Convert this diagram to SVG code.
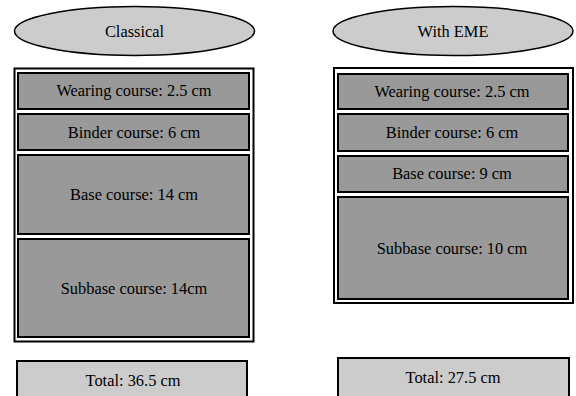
<svg xmlns="http://www.w3.org/2000/svg" width="576" height="396" viewBox="0 0 576 396">
<style>
text{font-family:"Liberation Serif","Times New Roman",serif;font-size:16.4px;fill:#000;text-anchor:middle}
.hdr{fill:#cccccc;stroke:#000;stroke-width:1.5}
.frame{fill:#fff;stroke:#000;stroke-width:2}
.layer{fill:#999999;stroke:#000;stroke-width:2}
.total{fill:#cccccc;stroke:#000;stroke-width:2}
</style>
<rect width="576" height="396" fill="#fff"/>
<g id="classical">
<g id="classical-title"><ellipse class="hdr" cx="134.5" cy="31" rx="120" ry="24.5"/><text x="134.5" y="37">Classical</text></g>
<g id="classical-frame"><rect class="frame" x="14.5" y="68.5" width="239" height="273"/></g>
<g id="classical-wearing"><rect class="layer" x="18" y="73" width="231" height="36"/><text x="134" y="96">Wearing course: 2.5 cm</text></g>
<g id="classical-binder"><rect class="layer" x="18" y="114" width="231" height="36"/><text x="134" y="138">Binder course: 6 cm</text></g>
<g id="classical-base"><rect class="layer" x="18" y="155" width="231" height="79"/><text x="134" y="200">Base course: 14 cm</text></g>
<g id="classical-subbase"><rect class="layer" x="18" y="239" width="231" height="98"/><text x="134" y="294">Subbase course: 14cm</text></g>
<g id="classical-total"><rect class="total" x="17" y="361" width="230" height="40"/><text x="133" y="386">Total: 36.5 cm</text></g>
</g>
<g id="eme">
<g id="eme-title"><ellipse class="hdr" cx="453" cy="31" rx="120" ry="24.5"/><text x="453" y="37">With EME</text></g>
<g id="eme-frame"><rect class="frame" x="334" y="68" width="239" height="235"/></g>
<g id="eme-wearing"><rect class="layer" x="338" y="74" width="230" height="35"/><text x="452" y="97">Wearing course: 2.5 cm</text></g>
<g id="eme-binder"><rect class="layer" x="338" y="114" width="230" height="37"/><text x="452" y="138">Binder course: 6 cm</text></g>
<g id="eme-base"><rect class="layer" x="338" y="156" width="230" height="36"/><text x="452" y="179">Base course: 9 cm</text></g>
<g id="eme-subbase"><rect class="layer" x="338" y="197" width="230" height="102"/><text x="452" y="254">Subbase course: 10 cm</text></g>
<g id="eme-total"><rect class="total" x="338" y="358" width="231" height="40"/><text x="453" y="383">Total: 27.5 cm</text></g>
</g>
<g id="connectors"/>
</svg>
